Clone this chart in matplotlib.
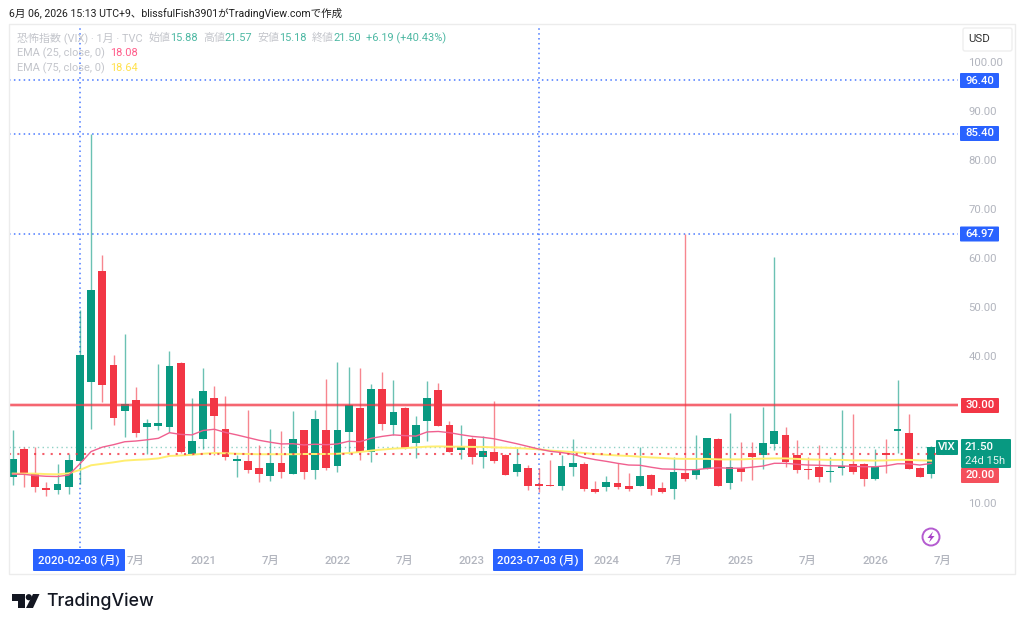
import matplotlib
matplotlib.use("Agg")
import matplotlib.pyplot as plt
from matplotlib.patches import Circle, FancyBboxPatch, Polygon, Rectangle

plt.rcParams['font.family'] = ['Roboto', 'Noto Sans CJK JP', 'DejaVu Sans']

# monthly candles, Aug 2019 to Jun 2026
opens = [15.4, 21.0, 16.05, 13.0, 12.6, 13.3, 18.64, 34.7, 57.3, 38.2,
         28.8, 31.0, 25.6, 25.7, 25.6, 38.5, 20.0, 23.0, 31.4, 25.2,
         18.6, 18.6, 17.2, 15.6, 18.1, 16.0, 24.8, 16.8, 25.0, 17.55,
         24.4, 29.45, 20.5, 33.3, 25.85, 29.45, 22.3, 26.7, 33.0, 25.9,
         20.75, 23.1, 19.45, 20.4, 19.85, 16.25, 17.2, 13.8, 13.67, 13.45,
         17.3, 17.9, 12.9, 13.2, 14.15, 13.45, 13.45, 15.7, 13.1, 12.9,
         16.2, 15.65, 16.9, 23.0, 14.0, 17.2, 20.3, 19.8, 22.0, 23.9,
         19.8, 16.9, 17.3, 16.25, 17.15, 18.0, 18.0, 14.8, 20.0, 24.6,
         24.2, 17.1, 15.88]
closes = [19.0, 16.05, 13.2, 12.6, 13.8, 18.8, 40.11, 53.54, 34.1, 27.4,
          30.3, 24.3, 26.4, 26.4, 38.0, 20.5, 22.7, 32.9, 27.8, 19.3,
          18.8, 16.8, 15.85, 18.2, 16.4, 23.1, 16.3, 27.2, 17.15, 24.8,
          30.05, 20.4, 33.3, 26.05, 28.65, 21.15, 25.85, 31.5, 25.8, 20.5,
          21.6, 19.3, 20.7, 18.55, 15.65, 17.9, 13.45, 13.45, 13.45, 17.5,
          18.1, 12.85, 12.3, 14.3, 13.3, 12.9, 15.6, 12.9, 12.3, 16.3,
          14.9, 16.65, 23.2, 13.5, 17.35, 16.4, 19.45, 22.3, 24.6, 18.4,
          16.7, 16.65, 15.25, 16.3, 17.35, 16.25, 14.8, 17.35, 19.85, 25.2,
          16.9, 15.25, 21.50]
highs = [24.9, 21.5, 21.4, 14.2, 18.0, 20.0, 49.48, 85.4, 60.6, 40.3,
         44.5, 33.6, 27.1, 38.4, 41.0, 38.8, 31.4, 37.5, 33.9, 31.8,
         19.8, 29.0, 21.8, 25.1, 24.7, 28.8, 24.9, 29.0, 35.3, 38.85,
         37.7, 37.5, 34.3, 36.7, 35.1, 29.6, 27.75, 34.9, 34.4, 26.7,
         25.85, 23.4, 23.7, 30.8, 20.0, 21.4, 17.7, 17.1, 18.8, 19.8,
         23.0, 18.4, 14.4, 15.5, 18.1, 16.05, 21.4, 16.0, 14.3, 19.3,
         64.97, 23.9, 23.2, 23.2, 28.3, 22.5, 22.5, 29.5, 60.13, 25.6,
         22.85, 19.3, 21.8, 19.3, 29.0, 28.2, 18.1, 20.95, 23.0, 35.2,
         28.1, 17.4, 21.57]
lows = [13.7, 13.3, 12.3, 11.5, 11.75, 11.85, 13.9, 25.1, 30.7, 25.9,
        23.5, 23.5, 20.1, 24.9, 24.4, 20.3, 19.8, 21.1, 19.8, 18.8,
        15.4, 16.1, 14.2, 14.4, 15.2, 15.9, 15.0, 14.8, 16.8, 16.4,
        20.1, 18.8, 18.4, 25.0, 23.9, 21.0, 19.1, 22.7, 25.8, 20.5,
        19.0, 18.0, 17.1, 18.1, 15.65, 15.6, 12.65, 12.3, 13.45, 12.65,
        15.6, 12.5, 12.0, 12.5, 12.8, 12.5, 13.45, 11.65, 12.0, 10.75,
        14.55, 15.0, 16.9, 13.5, 12.8, 14.55, 14.7, 16.9, 20.8, 17.3,
        16.2, 14.8, 14.35, 14.35, 15.65, 16.0, 13.5, 14.7, 16.05, 20.3,
        16.9, 15.25, 15.18]
ema25 = [15.9, 15.85, 15.6, 15.45, 15.4, 15.7, 18.0, 20.5, 21.4, 21.9,
         22.5, 22.65, 22.9, 23.2, 24.35, 24.0, 23.9, 24.8, 25.05, 24.4,
         23.9, 23.35, 22.8, 22.4, 22.05, 22.1, 21.85, 22.0, 21.9, 22.05,
         22.6, 22.5, 23.2, 23.6, 23.9, 23.75, 23.65, 24.5, 24.6, 24.35,
         23.95, 23.6, 23.4, 23.1, 22.6, 22.1, 21.55, 21.0, 20.55, 20.3,
         19.95, 19.3, 18.85, 18.5, 18.1, 17.75, 17.7, 17.3, 16.95, 16.9,
         16.8, 16.8, 17.05, 17.2, 17.1, 17.1, 17.3, 17.55, 18.1, 18.1,
         17.9, 17.75, 17.7, 17.6, 17.55, 17.5, 17.4, 17.4, 17.6, 18.0,
         18.0, 17.75, 18.08]
ema75 = [16.0, 16.0, 16.0, 15.9, 15.85, 16.05, 16.75, 17.7, 18.0, 18.3,
         18.65, 18.8, 18.9, 19.1, 19.6, 19.7, 19.85, 20.05, 20.2, 20.15,
         20.05, 20.0, 19.95, 19.95, 19.95, 19.95, 20.0, 20.0, 20.0, 20.05,
         20.2, 20.4, 20.7, 20.9, 21.1, 21.2, 21.35, 21.5, 21.55, 21.5,
         21.5, 21.45, 21.45, 21.35, 21.3, 21.2, 21.1, 20.95, 20.7, 20.55,
         20.4, 20.2, 20.0, 19.85, 19.7, 19.6, 19.45, 19.3, 19.2, 19.05,
         19.0, 19.0, 19.0, 18.9, 18.9, 18.9, 19.0, 19.05, 19.1, 19.1,
         19.0, 18.9, 18.85, 18.8, 18.8, 18.7, 18.7, 18.65, 18.7, 18.8,
         18.8, 18.7, 18.64]

# 20 and 30 have price tags of their own on the scale
price_ticks = [10, 40, 50, 60, 70, 80, 90, 100]
blue_levels = [96.40, 85.40, 64.97]
red_level = 30.00
dotted_level = 20.00
last_price = 21.50
marked_months = [6, 47]
marked_labels = ['2020-02-03 (月)', '2023-07-03 (月)']
month_ticks = [11, 17, 23, 29, 35, 41, 53, 59, 65, 71, 77, 83]
month_labels = ['7月', '2021', '7月', '2022', '7月', '2023', '2024', '7月', '2025', '7月', '2026', '7月']

GREEN = '#089981'
RED = '#f23645'
BLUE = '#2962ff'
GREY = '#b2b5be'
FS = 8.2
LEG_FS = 7.9

W, H = 1024, 628
fig = plt.figure(figsize=(W / 100, H / 100), dpi=100, facecolor='white')

# main pane in pixels: x 9-958, y 24-548
ax = fig.add_axes([9 / W, 1 - 548 / H, (958 - 9) / W, (548 - 24) / H])
ax.set_xlim((9 - 12.7) / 11.2, (958 - 12.7) / 11.2)
ax.set_ylim(10 + (503 - 548) / 4.9, 10 + (503 - 24) / 4.9)
for s in ax.spines.values():
    s.set_visible(False)
ax.set_yticks(price_ticks)
ax.set_yticklabels(['%.2f' % t for t in price_ticks], color=GREY, fontsize=FS)
ax.yaxis.tick_right()
ax.tick_params(axis='y', length=0, pad=7.5)
ax.set_xticks(month_ticks)
ax.set_xticklabels(month_labels, color=GREY, fontsize=FS, fontweight='medium')
ax.tick_params(axis='x', length=0, pad=6)

idx = list(range(len(opens)))
colors = [GREEN if c >= o else RED for o, c in zip(opens, closes)]

ax.axhline(last_price, color=GREEN, lw=1, ls=(0, (1, 2.4)), alpha=0.45, zorder=1)
ax.axhline(red_level, color=RED, lw=2.6, alpha=0.3, zorder=1)
ax.axhline(red_level, color=RED, lw=1.1, alpha=0.85, zorder=5)
for lv in blue_levels:
    ax.axhline(lv, color=BLUE, lw=1.1, ls=(0, (1, 2.2)), alpha=0.85, zorder=1)
for m in marked_months:
    ax.axvline(m, color=BLUE, lw=1.1, ls=(0, (1, 2.2)), alpha=0.85, zorder=1)

ax.vlines(idx, lows, highs, colors=colors, lw=1, alpha=0.6, zorder=2)
bottoms = [min(o, c) for o, c in zip(opens, closes)]
heights = [max(abs(c - o), 0.3) for o, c in zip(opens, closes)]
ax.bar(idx, heights, bottom=bottoms, width=0.7, color=colors, lw=0, zorder=3)

ax.plot(idx, ema75, color='#ffee70', lw=1.4, zorder=4)
ax.plot(idx, ema25, color='#f0608f', lw=1.0, zorder=4)
ax.axhline(dotted_level, color=RED, lw=1.5, ls=(0, (1, 3)), alpha=0.8, zorder=5)

# overlay in pixel coordinates for the frame, price tags and header text
ov = fig.add_axes([0, 0, 1, 1], facecolor='none')
ov.set_xlim(0, W)
ov.set_ylim(H, 0)
ov.axis('off')

ov.add_patch(Rectangle((9, 24), 1006, 550, fill=False, ec='#ececec', lw=1))


def tag(x0, x1, y0, y1, color, text, fs=FS, tc='white'):
    ov.add_patch(FancyBboxPatch((x0 + 1, y0 + 1), x1 - x0 - 2, y1 - y0 - 2, boxstyle='round,pad=1',
                                fc=color, ec='none', zorder=6))
    ov.text((x0 + x1) / 2, (y0 + y1) / 2, text, color=tc, fontsize=fs, ha='center', va='center',
            fontweight='medium', zorder=7)


for lv, yc in zip(blue_levels, [80.5, 133.5, 234]):
    tag(960, 999, yc - 7.5, yc + 7.5, BLUE, '%.2f' % lv)
tag(961, 999, 398, 413, RED, '%.2f' % red_level)
tag(961, 999, 468, 483, '#f4505c', '%.2f' % dotted_level)
tag(936, 958, 440, 455, GREEN, 'VIX')
ov.add_patch(FancyBboxPatch((962, 440), 48, 27, boxstyle='round,pad=1', fc=GREEN, ec='none', zorder=6))
ov.text(979, 447, '21.50', color='white', fontsize=FS, ha='center', va='center', zorder=7, fontweight='medium')
ov.text(985, 460.5, '24d 15h', color='#e6f5f2', fontsize=FS - 0.2, ha='center', va='center', zorder=7)

tag(33, 125, 549, 571, BLUE, marked_labels[0], fs=FS)
tag(493, 583, 549, 571, BLUE, marked_labels[1], fs=FS)

ov.add_patch(FancyBboxPatch((965, 30), 45, 19, boxstyle='round,pad=2', fc='white', ec='#eeeeee', lw=1))
ov.text(979, 39.5, 'USD', color='#333333', fontsize=FS, ha='center', va='center')

ov.text(9, 13.5, '6月 06, 2026 15:13 UTC+9、blissfulFish3901がTradingView.comで作成',
        color='#1f1f1f', fontsize=7.6, va='center')

LEG = '#c3c5cb'
LGREEN = '#4db8a3'
ov.text(17, 38, '恐怖指数 (VIX) · 1月 · TVC', color=LEG, fontsize=LEG_FS, va='center')
for x, s, c in [(148.5, '始値', LEG), (170, '15.88', LGREEN), (203, '高値', LEG), (224, '21.57', LGREEN),
                (257, '安値', LEG), (279, '15.18', LGREEN), (312, '終値', LEG), (333, '21.50', LGREEN),
                (366, '+6.19 (+40.43%)', LGREEN)]:
    ov.text(x, 38, s, color=c, fontsize=LEG_FS, va='center')
ov.text(17, 53, 'EMA (25, close, 0)', color=LEG, fontsize=LEG_FS, va='center')
ov.text(110, 53, '18.08', color='#ff5c8a', fontsize=LEG_FS, va='center')
ov.text(17, 68, 'EMA (75, close, 0)', color=LEG, fontsize=LEG_FS, va='center')
ov.text(110, 68, '18.64', color='#ffe14d', fontsize=LEG_FS, va='center')

# lightning badge
ov.add_patch(Circle((931, 537), 8.5, fc='white', ec='#b45bd0', lw=1.4, zorder=6))
ov.add_patch(Polygon([(933, 531.5), (927.5, 538), (930.7, 538), (929, 542.5), (934.5, 536), (931.3, 536)],
                     fc='#a83fc8', ec='none', zorder=7))

# logo
ov.add_patch(Polygon([(11.7, 594), (24.5, 594), (24.5, 608), (18, 608), (18, 600.5), (11.7, 600.5)], fc='#131722', ec='none'))
ov.add_patch(Circle((28.8, 597.2), 3.1, fc='#131722', ec='none'))
ov.add_patch(Polygon([(33, 594), (39.5, 594), (33, 608), (26, 608)], fc='#131722', ec='none'))
ov.text(46, 601, 'TradingView', color='#131722', fontsize=12.8, fontweight='medium', va='center',
        family=['Inter', 'DejaVu Sans'])

fig.savefig('out.png', dpi=100)
